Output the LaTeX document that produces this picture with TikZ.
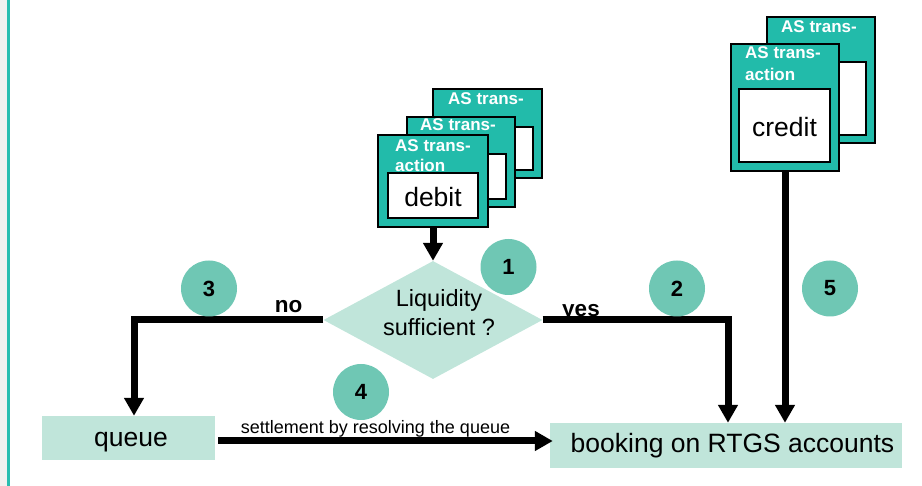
\documentclass[tikz,border=0pt]{standalone}
\usepackage{fontspec}
\setmainfont{Liberation Sans}
\usetikzlibrary{arrows.meta,shapes.geometric,calc}
\definecolor{cardteal}{RGB}{34,187,170}
\definecolor{circteal}{RGB}{111,199,180}
\definecolor{mint}{RGB}{192,229,218}
\definecolor{stripgray}{RGB}{242,242,240}
\definecolor{edgeteal}{RGB}{42,190,176}
\begin{document}
\begin{tikzpicture}[x=1pt,y=-1pt,
  card/.style={draw=black,line width=2pt,fill=cardteal,inner sep=0pt},
  wbox/.style={draw=black,line width=2pt,fill=white,inner sep=0pt},
  astext/.style={anchor=base west,inner sep=0pt,text=white,font=\fontsize{17}{20}\selectfont\bfseries},
  bigtext/.style={inner sep=0pt,font=\fontsize{26.5}{30}\selectfont},
  mintbox/.style={fill=mint,inner sep=0pt},
  numcirc/.style={circle,fill=circteal,minimum size=56pt,inner sep=0pt,font=\fontsize{22}{24}\selectfont\bfseries},
  lbl/.style={anchor=base,inner sep=0pt,font=\fontsize{22.5}{25}\selectfont\bfseries},
  arr/.style={line width=7pt,-{Triangle[width=19pt,length=18pt]}},
  plain/.style={line width=7pt}]
\useasboundingbox (0,0) rectangle (922,486);
% left strip
\fill[stripgray] (0,0) rectangle (7,486);
\fill[edgeteal] (7,0) rectangle (10,486);

% credit stack
\node[card,minimum width=108pt,minimum height=126pt] (c2) at (821,80) {};
\node[astext] (c2t) at (781,33) {AS trans-};
\node[wbox,minimum width=90pt,minimum height=73pt] (c2w) at (821,98.5) {};
\node[card,minimum width=108pt,minimum height=127pt] (c1) at (785,107.5) {};
\node[astext] (c1t) at (745,59) {AS trans-};
\node[astext] (c1a) at (745,81) {action};
\node[wbox,minimum width=91pt,minimum height=73pt] (c1w) at (784.5,125.5) {};
\node[bigtext] (credit) at (784.5,127) {credit};

% debit stack
\node[card,minimum width=109pt,minimum height=89pt] (d3) at (487.5,133.5) {};
\node[astext] (d3t) at (448,105) {AS trans-};
\node[wbox,minimum width=90pt,minimum height=43pt] (d3w) at (488,148.5) {};
\node[card,minimum width=108pt,minimum height=90pt] (d2) at (461,162) {};
\node[astext] (d2t) at (420,131) {AS trans-};
\node[wbox,minimum width=89pt,minimum height=45pt] (d2w) at (461.5,176.5) {};
\node[card,minimum width=110pt,minimum height=92pt] (d1) at (433,181) {};
\node[astext] (d1t) at (395,152) {AS trans-};
\node[astext] (d1a) at (395,172) {action};
\node[wbox,minimum width=90pt,minimum height=45pt] (d1w) at (433,195.5) {};
\node[bigtext] (debit) at (433,197) {debit};

% diamond
\node[diamond,fill=mint,inner sep=0pt,minimum width=219pt,minimum height=118pt] (dia) at (433,320) {};
\node[inner sep=0pt,align=center,font=\fontsize{23.5}{29}\selectfont] (dtext) at (439,313) {Liquidity\\sufficient ?};

% boxes
\node[mintbox,minimum width=173pt,minimum height=44pt] (queue) at (128.5,438) {};
\node[bigtext,anchor=base] (qtext) at (131,447) {queue};
\node[mintbox,minimum width=352pt,minimum height=45pt] (booking) at (726,445.5) {};
\node[bigtext,anchor=base] (btext) at (732.5,453) {booking on RTGS accounts};

% connectors
\draw[arr] (d1.south) -- (dia.north);
\draw[arr,line join=miter] (dia.west) -| ([xshift=5.5pt]queue.north);
\draw[arr,line join=miter] (dia.east) -| ([xshift=2pt]booking.north);
\draw[arr] (c1.south) -- (c1.south |- booking.north);
\draw[arr] ([xshift=3pt,yshift=-3pt]queue.east) -- ([xshift=3pt,yshift=-3pt]queue.east -| booking.west);

% labels
\node[lbl] (nolbl) at (288.5,313) {no};
\node[lbl] (yeslbl) at (581,317) {yes};
\node[anchor=base,inner sep=0pt,font=\fontsize{18}{20}\selectfont] (settle) at (375.5,434) {settlement by resolving the queue};

% numbered circles
\node[numcirc] (n1) at (508.5,267) {1};
\node[numcirc] (n2) at (677,288.5) {2};
\node[numcirc] (n3) at (209,288.5) {3};
\node[numcirc] (n4) at (361,392) {4};
\node[numcirc] (n5) at (830,288.5) {5};
\end{tikzpicture}
\end{document}
